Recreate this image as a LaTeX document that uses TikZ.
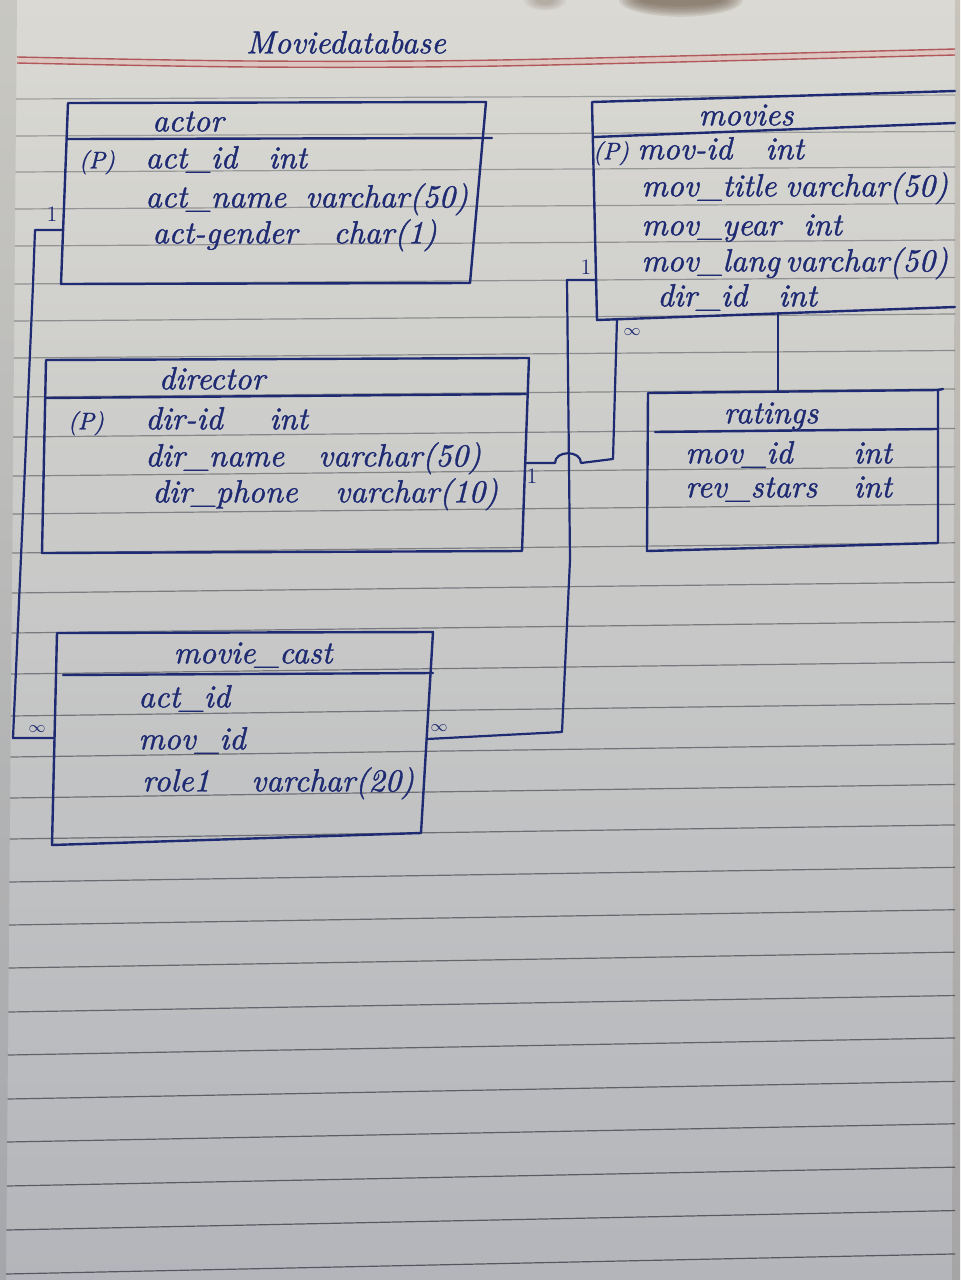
\documentclass[tikz,border=0pt]{standalone}
\usepackage{fontspec}
\newfontface\handfont{lmroman10-italic.otf}[FakeBold=1.2]
\definecolor{ink}{HTML}{1E2A72}
\definecolor{papertop}{HTML}{DAD9D3}
\definecolor{papermid}{HTML}{CACACA}
\definecolor{paperbot}{HTML}{B3B5BA}
\definecolor{rulecol}{HTML}{45484F}
\definecolor{margincol}{HTML}{B0585B}
\definecolor{marginband}{HTML}{E3BCB5}
\definecolor{smudge}{HTML}{6E5C4C}
\tikzset{
  hw/.style={text=ink, font=\fontsize{16}{19}\selectfont\handfont, inner sep=0pt, anchor=mid west},
  hwc/.style={hw, anchor=mid},
  pk/.style={text=ink, font=\fontsize{12}{14}\selectfont\handfont, inner sep=0pt, anchor=mid},
  card/.style={text=ink, font=\fontsize{11}{13}\selectfont, inner sep=0pt, anchor=mid},
  many/.style={text=ink, font=\fontsize{8}{9}\selectfont, inner sep=0pt, anchor=mid},
  box/.style={draw=ink, line width=1.2pt, line join=round, line cap=round},
  link/.style={draw=ink, line width=1.1pt, line join=round, line cap=round},
  ruled/.style={draw=rulecol, line width=0.6pt},
}
\begin{document}
\begin{tikzpicture}[x=0.5pt, y=-0.5pt]
\useasboundingbox (0,0) rectangle (960,1280);
% paper
\shade[top color=papertop, middle color=papermid, bottom color=paperbot] (0,0) rectangle (960,1280);
\fill[black, opacity=0.08] (0,0) -- (17,0) -- (6,1280) -- (0,1280) -- cycle;
\fill[black!60!brown, opacity=0.12] (955,0) -- (960,0) -- (960,1280) -- (952,1280) -- cycle;
% blurred smudge at the top edge
\foreach \i in {1,...,8}{
  \fill[smudge, opacity=0.13] (681,0) ellipse ({38+3*\i} and {4+1.6*\i});
}
\foreach \i in {1,...,5}{
  \fill[smudge, opacity=0.08] (545,0) ellipse ({6+3*\i} and {3+1.5*\i});
}
% ruled lines
\foreach \yl in {99,136,172,209,246,284,321,358,397,437,476,514,553,593,633,674,716,757,798,839,882,925,968,1012,1055,1099,1142,1186,1230,1274}{
  \pgfmathsetmacro\yr{\yl-4-(\yl-100)/1170*16}
  \pgfmathsetmacro\op{0.4+(\yl-100)/1170*0.45}
  \pgfmathsetmacro\xl{17-\yl/1280*11}
  \draw[ruled, draw opacity=\op] (\xl,\yl) -- (955,\yr);
}
% red margin lines
\fill[marginband, opacity=0.6] plot[smooth] coordinates {(17,57) (250,61) (500,60) (955,49)} -- plot[smooth] coordinates {(955,55) (500,66) (250,67) (17,63)} -- cycle;
\draw[margincol, line width=0.7pt] plot[smooth] coordinates {(17,57) (250,61) (500,60) (955,49)};
\draw[margincol, line width=0.7pt] plot[smooth] coordinates {(17,63) (250,67) (500,66) (955,55)};

% title
\node[hwc] (title) at (346,49) {Moviedatabase};

% ---------- actor ----------
\coordinate (actor-tl) at (68,103);
\coordinate (actor-tr) at (486,102);
\coordinate (actor-br) at (470,283);
\coordinate (actor-bl) at (61,284);
\draw[box] (actor-tl) -- (actor-tr) -- (actor-br) -- (actor-bl) -- cycle;
\draw[box] (68,139) -- (492,138);
\node[hwc] (actor-title) at (188,127) {actor};
\node[pk] (actor-pk) at (97,164) {(P)};
\node[hw] (actor-f1) at (145,164) {act\_id};
\node[hw] (actor-t1) at (268,164) {int};
\node[hw] (actor-f2) at (145,203) {act\_name};
\node[hw] (actor-t2) at (305,203) {varchar(50)};
\node[hw] (actor-f3) at (152,239) {act-gender};
\node[hw] (actor-t3) at (333,239) {char(1)};

% ---------- movies ----------
\coordinate (movies-tl) at (592,102);
\coordinate (movies-tr) at (955,91);
\coordinate (movies-bl) at (597,320);
\coordinate (movies-br) at (955,307);
\draw[box] (movies-tr) -- (movies-tl) -- (movies-bl) -- (movies-br);
\draw[box] (594,137) -- (955,123);
\node[hwc] (movies-title) at (746,121) {movies};
\node[pk] (movies-pk) at (611,155) {(P)};
\node[hw] (movies-f1) at (637,155) {mov-id};
\node[hw] (movies-t1) at (765,155) {int};
\node[hw] (movies-f2) at (641,192) {mov\_title};
\node[hw] (movies-t2) at (785,192) {varchar(50)};
\node[hw] (movies-f3) at (641,231) {mov\_year};
\node[hw] (movies-t3) at (803,231) {int};
\node[hw] (movies-f4) at (641,267) {mov\_lang};
\node[hw] (movies-t4) at (785,267) {varchar(50)};
\node[hw] (movies-f5) at (657,302) {dir\_id};
\node[hw] (movies-t5) at (778,302) {int};

% ---------- director ----------
\coordinate (dir-tl) at (46,360);
\coordinate (dir-tr) at (529,358);
\coordinate (dir-br) at (522,551);
\coordinate (dir-bl) at (42,553);
\draw[box] (dir-tl) -- (dir-tr) -- (dir-br) -- (dir-bl) -- cycle;
\draw[box] (46,398) -- (526,394);
\node[hwc] (dir-title) at (212,385) {director};
\node[pk] (dir-pk) at (86,425) {(P)};
\node[hw] (dir-f1) at (145,425) {dir-id};
\node[hw] (dir-t1) at (269,425) {int};
\node[hw] (dir-f2) at (145,462) {dir\_name};
\node[hw] (dir-t2) at (318,462) {varchar(50)};
\node[hw] (dir-f3) at (152,498) {dir\_phone};
\node[hw] (dir-t3) at (335,498) {varchar(10)};

% ---------- ratings ----------
\coordinate (rat-tl) at (648,393);
\coordinate (rat-tr) at (938,390);
\coordinate (rat-br) at (938,543);
\coordinate (rat-bl) at (647,551);
\draw[box] (rat-tl) -- (rat-tr) -- (rat-br) -- (rat-bl) -- cycle;
\draw[box] (rat-tr) -- (943,389);
\draw[box] (655,432) -- (937,429);
\node[hwc] (rat-title) at (771,419) {ratings};
\node[hw] (rat-f1) at (685,459) {mov\_id};
\node[hw] (rat-t1) at (853,459) {int};
\node[hw] (rat-f2) at (685,493) {rev\_stars};
\node[hw] (rat-t2) at (853,493) {int};

% ---------- movie_cast ----------
\coordinate (cast-tl) at (57,633);
\coordinate (cast-tr) at (433,632);
\coordinate (cast-br) at (421,833);
\coordinate (cast-bl) at (52,845);
\draw[box] (cast-tl) -- (cast-tr) -- (cast-br) -- (cast-bl) -- cycle;
\draw[box] (63,675) -- (433,673);
\node[hwc] (cast-title) at (253,659) {movie\_cast};
\node[hw] (cast-f1) at (138,703) {act\_id};
\node[hw] (cast-f2) at (138,745) {mov\_id};
\node[hw] (cast-f3) at (142,787) {role1};
\node[hw] (cast-t3) at (251,787) {varchar(20)};

% ---------- connector anchors ----------
\coordinate (actor-w) at (63,230);
\coordinate (cast-w) at (54,738);
\coordinate (movies-w) at (596,280);
\coordinate (cast-e) at (427,739);
\coordinate (movies-s) at (617,319);
\coordinate (dir-e) at (525,463);
\coordinate (movies-s2) at (778,313);
\coordinate (rat-n) at (778,392);

% actor (1) -- movie_cast (many)
\draw[link] (actor-w) -- (35,230) -- (33,285) -- (13,738) -- (cast-w);
\node[card] (lab-a1) at (52,217) {1};
\node[many] (lab-a2) at (37,728) {$\infty$};

% movies (1) -- movie_cast (many)
\draw[link] (movies-w) -- (567,280) -- (570,560) -- (562,732) -- (cast-e);
\node[card] (lab-m1) at (586,270) {1};
\node[many] (lab-m2) at (439,727) {$\infty$};

% director (1) -- movies (many), hopping over the other line
\draw[link] (movies-s) -- (613,459) -- (581,463) .. controls (581,450) and (555,450) .. (555,463) -- (dir-e);
\node[many] (lab-d1) at (632,331) {$\infty$};
\node[card] (lab-d2) at (532,479) {1};

% movies -- ratings
\draw[link] (movies-s2) -- (rat-n);
\end{tikzpicture}
\end{document}
